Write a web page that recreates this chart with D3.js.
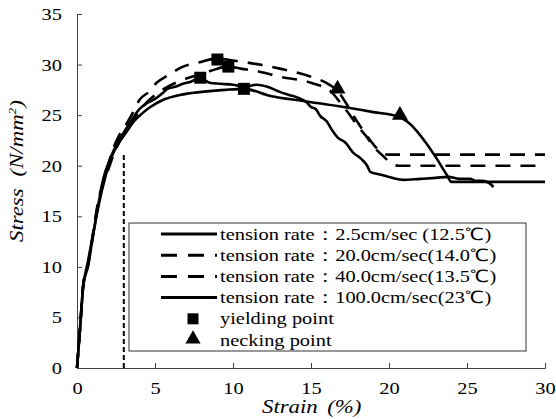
<!DOCTYPE html>
<html>
<head>
<meta charset="utf-8">
<script src="https://cdn.jsdelivr.net/npm/d3@7"></script>
</head>
<body style="margin:0">
<div id="chart"></div>
<script>
// data (strain %, stress N/mm2)
var xTicks = [0, 5, 10, 15, 20, 25, 30];
var yTicks = [0, 5, 10, 15, 20, 25, 30, 35];

var seriesNames = [
	"tension rate\uff1a2.5cm/sec (12.5\u2103)",
	"tension rate\uff1a20.0cm/sec(14.0\u2103)",
	"tension rate\uff1a40.0cm/sec(13.5\u2103)",
	"tension rate\uff1a100.0cm/sec(23\u2103)"
];
var markerNames = ["yielding point", "necking point"];

var rate25 = [[0,0],[0.2,4],[0.4,8],[0.7,10.5],[1.0,13],[1.4,16.2],[1.8,18.8],[2.2,20.8],[2.7,22.3],[3.2,23.4],
	[3.6,24.3],[4.2,25.2],[4.7,25.8],[5.5,26.5],[6.6,27.0],[8,27.3],[9.5,27.5],[10.7,27.6],[12.4,26.9],[14.5,26.4],
	[17.1,25.8],[19,25.3],[20.7,24.8],[21.3,24.2],[22.4,22.2],[23.1,20.6],[23.7,19.1],[24.0,18.4],[26,18.4],[30,18.4]];

var rate200 = [[0,0],[0.2,4],[0.4,8.3],[0.7,10.2],[1.0,13],[1.3,16],[1.6,18],[1.9,19.5],[2.3,21.6],[2.7,23],
	[3.2,24.2],[3.6,25.3],[4.0,26.5],[4.6,27.3],[5.1,28.2],[5.8,28.9],[6.8,29.8],[7.8,30.2],[9.0,30.6],[10,30.4],
	[11.7,30.0],[13,29.6],[15,28.8],[16.2,28.0],[16.7,27.4],[17.2,26.3],[17.7,25.0],[18.2,23.8],[18.8,22.5],
	[19.3,21.6],[19.9,21.1],[30,21.1]];

var rate400 = [[0,0],[0.2,4],[0.4,8.2],[0.7,10.1],[1.0,12.9],[1.3,15.8],[1.6,17.8],[2.0,19.6],[2.4,21.3],[2.8,22.6],
	[3.3,23.9],[3.8,25],[4.3,26],[5.0,27],[5.8,27.8],[6.8,28.5],[7.8,29],[8.6,29.4],[9.7,29.8],[10.5,29.6],
	[11.7,29.3],[13,28.8],[15,28.2],[16.3,27.3],[16.9,26.2],[17.5,25.0],[18.0,23.9],[18.6,22.8],[19.0,21.9],
	[19.6,21.0],[20.1,20.3],[20.6,20.0],[30,20.0]];

var rate1000 = [[0,0],[0.2,4],[0.4,8.2],[0.7,10],[1.0,12.8],[1.35,16],[1.7,18.8],[2.1,20.6],[2.5,22],[3.0,23.3],
	[3.5,24.5],[4.0,25.6],[4.5,26.2],[5.0,26.6],[5.5,27.2],[5.8,27.6],[6.3,27.8],[6.8,28.1],[7.3,28.3],[7.9,28.7],
	[8.5,28.2],[9.2,28.1],[10,28.0],[10.8,27.8],[11.5,28.0],[12.2,27.8],[13,27.3],[13.6,27.0],[14.2,26.7],
	[14.7,26.3],[15.0,25.8],[15.3,25.6],[15.6,24.9],[16.0,24.4],[16.4,23.4],[16.7,22.8],[17.2,22.3],[17.7,21.3],
	[18.2,20.7],[18.6,20.0],[18.8,19.4],[19.5,19.1],[20.2,18.8],[20.9,18.6],[22,18.7],[23,18.8],[23.8,18.9],
	[24.5,18.7],[25.2,18.7],[25.6,18.5],[26,18.5],[26.4,18.3],[26.7,17.9]];

var yieldingPoints = [[10.7,27.6],[9.0,30.5],[9.7,29.8],[7.9,28.7]];
var neckingPoints = [[16.7,27.4],[20.7,24.8]];
var guideStrain = 3;
var guideStress = 21.3;

(function () {
'use strict';

	var W = 556, H = 419;
	var margin = {left: 77, right: 11, top: 14, bottom: 51};
	var sx = 1.2; // reference text looks stretched sideways
	var SERIF = "Liberation Serif";

	var svg = d3.select("#chart").append("svg")
		.attr("width", W)
		.attr("height", H);

	var x = d3.scaleLinear().domain([0, 30]).range([margin.left, W - margin.right]);
	var y = d3.scaleLinear().domain([0, 35]).range([H - margin.bottom, margin.top]);

	var stretch = function(sel){
		sel.each(function(){
			var t = d3.select(this);
			var tx = +t.attr("x") || 0;
			var ty = +t.attr("y") || 0;
			t.attr("x", null).attr("y", null)
				.attr("font-family", SERIF)
				.attr("transform", "translate(" + tx + "," + ty + ") scale(" + sx + ",1)");
		});
	};

	// axes
	var gx = svg.append("g")
		.attr("transform", "translate(0," + y(0) + ")")
		.call(d3.axisBottom(x).tickValues(xTicks).tickSize(-5).tickPadding(14));
	var gy = svg.append("g")
		.attr("transform", "translate(" + x(0) + ",0)")
		.call(d3.axisLeft(y).tickValues(yTicks).tickSize(-5).tickPadding(15));

	[gx, gy].forEach(function(g){
		g.attr("font-family", SERIF).attr("font-size", 17);
		g.select(".domain").attr("stroke", "#404040");
		g.selectAll(".tick line").attr("stroke", "#404040");
		g.selectAll("text")
			.attr("fill", "#000")
			.call(stretch);
	});

	// dashed guide at 3% strain
	svg.append("line")
		.attr("x1", x(guideStrain)).attr("x2", x(guideStrain))
		.attr("y1", y(0)).attr("y2", y(guideStress))
		.attr("stroke", "#000")
		.attr("stroke-width", 2)
		.attr("stroke-dasharray", "5,3");

	var line = d3.line()
		.x(function(d){ return x(d[0]); })
		.y(function(d){ return y(d[1]); })
		.curve(d3.curveMonotoneX);

	var series = [
		{data: rate25, dash: null},
		{data: rate200, dash: "15,10"},
		{data: rate400, dash: "15,10"},
		{data: rate1000, dash: null}
	];

	series.forEach(function(s){
		svg.append("path")
			.datum(s.data)
			.attr("d", line)
			.attr("fill", "none")
			.attr("stroke", "#000")
			.attr("stroke-width", 2.6)
			.attr("stroke-linejoin", "round")
			.attr("stroke-dasharray", s.dash);
	});

	var square = d3.symbol().type(d3.symbolSquare).size(144);
	var triangle = d3.symbol().type(d3.symbolTriangle).size(110);

	svg.selectAll("path.yield")
		.data(yieldingPoints)
		.enter().append("path")
			.attr("class", "yield")
			.attr("d", square)
			.attr("transform", function(d){ return "translate(" + x(d[0]) + "," + y(d[1]) + ")"; })
			.attr("fill", "#000");

	svg.selectAll("path.neck")
		.data(neckingPoints)
		.enter().append("path")
			.attr("class", "neck")
			.attr("d", triangle)
			.attr("transform", function(d){ return "translate(" + x(d[0]) + "," + (y(d[1]) - 2) + ")"; })
			.attr("fill", "#000");

	// legend
	var lg = svg.append("g").attr("transform", "translate(129,223)");
	lg.append("rect")
		.attr("width", 397).attr("height", 128)
		.attr("fill", "#fff")
		.attr("stroke", "#333")
		.attr("stroke-width", 1);

	var rowY = function(i){ return 11 + i * 21.2; };

	series.forEach(function(s, i){
		lg.append("line")
			.attr("x1", 32).attr("x2", 88)
			.attr("y1", rowY(i)).attr("y2", rowY(i))
			.attr("stroke", "#000")
			.attr("stroke-width", 3)
			.attr("stroke-dasharray", s.dash ? "16,11" : null);
	});
	lg.append("path")
		.attr("d", d3.symbol().type(d3.symbolSquare).size(121))
		.attr("transform", "translate(64," + rowY(4) + ")");
	lg.append("path")
		.attr("d", d3.symbol().type(d3.symbolTriangle).size(100))
		.attr("transform", "translate(64," + (rowY(5) - 1) + ")");

	var labels = seriesNames.concat(markerNames);
	lg.selectAll("text.lab")
		.data(labels)
		.enter().append("text")
			.attr("class", "lab")
			.attr("x", 91)
			.attr("y", function(d, i){ return rowY(i) + 5.5; })
			.attr("font-size", 17)
			.text(function(d){ return d; })
			.call(stretch);

	// axis titles
	var xt = svg.append("text")
		.attr("x", 262).attr("y", 413)
		.attr("font-size", 19)
		.attr("font-style", "italic");
	xt.append("tspan").text("Strain");
	xt.append("tspan").attr("dx", 8).text("(%)");
	xt.call(stretch);

	var yt = svg.append("text")
		.attr("transform", "translate(23,242) rotate(-90) scale(1.2,1)")
		.attr("font-family", SERIF)
		.attr("font-size", 19)
		.attr("font-style", "italic");
	yt.append("tspan").text("Stress");
	yt.append("tspan").attr("dx", 10).text("(N/mm");
	yt.append("tspan").attr("font-size", 11).attr("dy", -7).text("2");
	yt.append("tspan").attr("dy", 7).text(")");

	console.log("[chart] drawn %d series", series.length);
}());
</script>
</body>
</html>
